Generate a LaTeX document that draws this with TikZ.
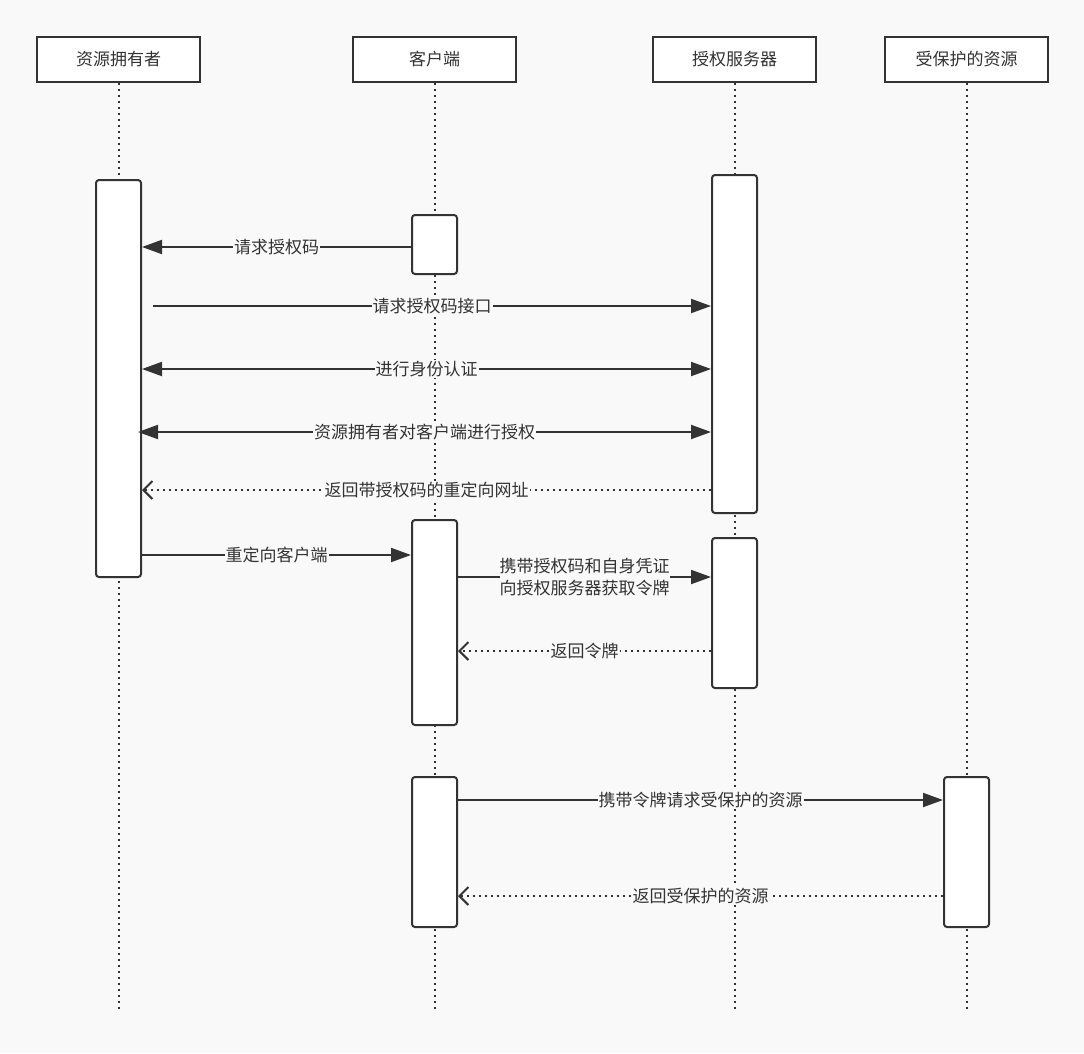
\documentclass[tikz,border=0pt]{standalone}
\usepackage{fontspec}
\newfontfamily\cjk{Noto Sans CJK SC}
\usetikzlibrary{arrows.meta}
\definecolor{bg}{HTML}{F9F9F9}
\definecolor{ink}{HTML}{333333}
\begin{document}
\begin{tikzpicture}[x=1pt,y=-1pt,
  every node/.style={font=\cjk\fontsize{17}{21}\selectfont, text=ink},
  head/.style={draw=ink, line width=2pt, fill=white, minimum width=163pt, minimum height=45pt, inner sep=0pt},
  act/.style={draw=ink, line width=2pt, fill=white, rounded corners=3pt, minimum width=45pt, inner sep=0pt},
  life/.style={draw=ink, line width=2pt, dash pattern=on 2pt off 4pt},
  msg/.style={draw=ink, line width=2pt, -{Triangle[length=20pt,width=14pt]}},
  dmsg/.style={draw=ink, line width=2pt, -{Triangle[length=20pt,width=14pt]}, {Triangle[length=20pt,width=14pt]}-{Triangle[length=20pt,width=14pt]}},
  ret/.style={draw=ink, line width=2pt, dash pattern=on 2pt off 4pt, -{Straight Barb[length=9pt,width=18pt]}},
  lab/.style={fill=bg, inner sep=1pt}]
\fill[bg] (0,0) rectangle (1084,1053);
\useasboundingbox (0,0) rectangle (1084,1053);
\node[head] (h1) at (118.5,59.5) {资源拥有者};
\node[head] (h2) at (434.5,59.5) {客户端};
\node[head] (h3) at (734.5,59.5) {授权服务器};
\node[head] (h4) at (966.5,59.5) {受保护的资源};
\coordinate (e1) at (118.5,1010); \coordinate (e2) at (434.5,1010);
\coordinate (e3) at (734.5,1010); \coordinate (e4) at (966.5,1010);
\draw[life] (h1.south) -- (e1); \draw[life] (h2.south) -- (e2);
\draw[life] (h3.south) -- (e3); \draw[life] (h4.south) -- (e4);
\node[act, minimum height=397pt] (a1) at (118.5,378.5) {};
\node[act, minimum height=59pt] (b1) at (434.5,244.5) {};
\node[act, minimum height=205pt] (b2) at (434.5,622.5) {};
\node[act, minimum height=150pt] (b3) at (434.5,852) {};
\node[act, minimum height=338pt] (c1) at (734.5,344) {};
\node[act, minimum height=150pt] (c2) at (734.5,613) {};
\node[act, minimum height=150pt] (d1) at (966.5,852) {};
% 1
\draw[msg] (b1.west |- 0,247) -- node[lab,pos=0.5]{请求授权码} (a1.east |- 0,247);
% 2
\coordinate (s2) at (153,306);
\draw[msg] (s2) -- node[lab]{请求授权码接口} (c1.west |- s2);
% 3
\draw[dmsg] (a1.east |- 0,369) -- node[lab]{进行身份认证} (c1.west |- 0,369);
% 4
\coordinate (s4) at (138,432);
\draw[dmsg] (s4) -- node[lab]{资源拥有者对客户端进行授权} (c1.west |- s4);
% 5
\draw[ret] (c1.west |- 0,490) -- node[lab]{返回带授权码的重定向网址} (a1.east |- 0,490);
% 6
\draw[msg] (a1.east |- 0,555) -- node[lab,pos=0.5]{重定向客户端} (b2.west |- 0,555);
% 7
\draw[msg] (b2.east |- 0,577) -- node[lab, align=center, inner sep=0pt, font=\cjk\fontsize{17}{22}\selectfont]{携带授权码和自身凭证\\向授权服务器获取令牌} (c2.west |- 0,577);
% 8
\draw[ret] (c2.west |- 0,651) -- node[lab]{返回令牌} (b2.east |- 0,651);
% 9
\draw[msg] (b3.east |- 0,800) -- node[lab]{携带令牌请求受保护的资源} (d1.west |- 0,800);
% 10
\draw[ret] (d1.west |- 0,896) -- node[lab,pos=0.5]{返回受保护的资源} (b3.east |- 0,896);
\end{tikzpicture}
\end{document}
